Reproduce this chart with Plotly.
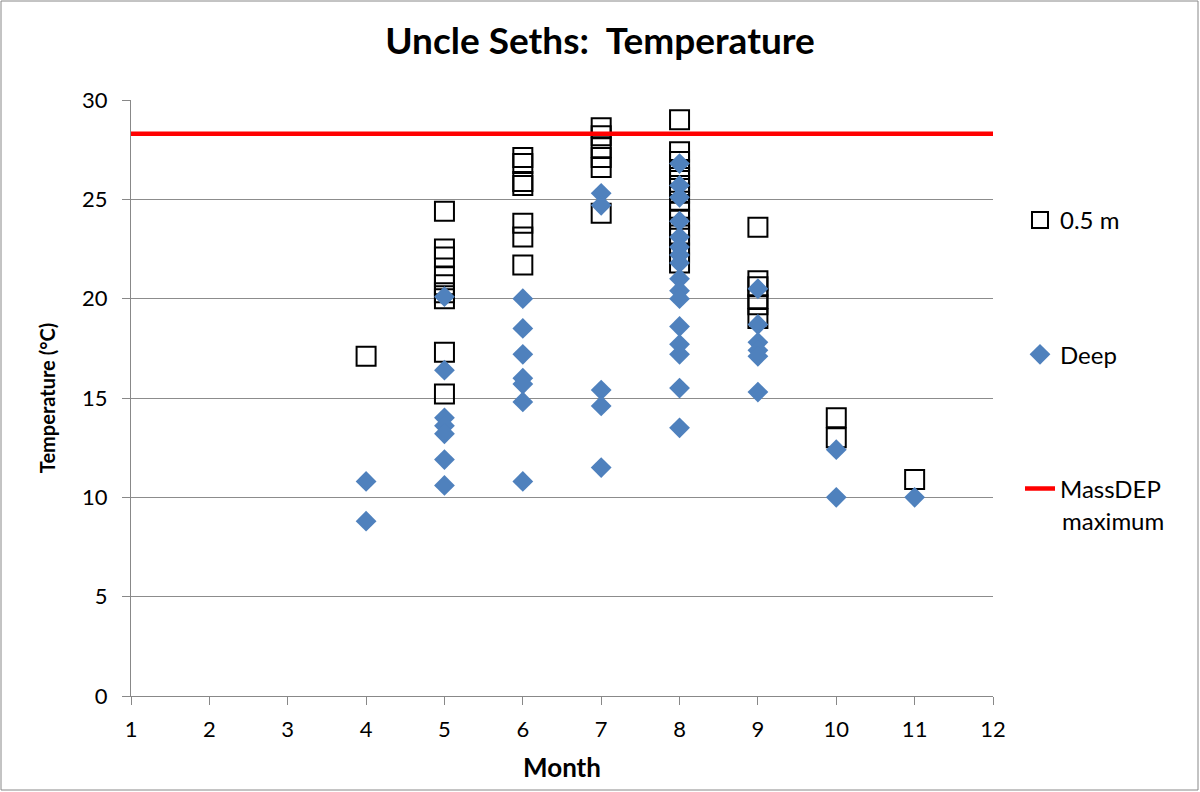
import plotly.graph_objects as go

# 0.5 m surface readings
shallow_month = [4,
                 5, 5, 5, 5, 5, 5, 5, 5, 5,
                 6, 6, 6, 6, 6, 6, 6,
                 7, 7, 7, 7, 7, 7,
                 8, 8, 8, 8, 8, 8, 8, 8, 8, 8, 8, 8, 8, 8, 8,
                 9, 9, 9, 9, 9, 9,
                 10, 10,
                 11]
shallow_temp = [17.1,
                24.4, 22.5, 22.1, 21.1, 20.7, 20.3, 20.0, 17.3, 15.2,
                27.1, 26.8, 25.9, 25.7, 23.8, 23.1, 21.7,
                28.6, 28.2, 27.6, 27.1, 26.6, 24.3,
                29.0, 27.4, 26.9, 26.5, 26.1, 25.7, 25.3, 24.9, 24.4, 24.0, 23.6, 23.2, 22.7, 22.3, 21.8,
                23.6, 20.9, 20.6, 20.0, 19.7, 19.0,
                14.0, 13.0,
                10.9]

# Deep readings
deep_month = [4, 4,
              5, 5, 5, 5, 5, 5, 5,
              6, 6, 6, 6, 6, 6, 6,
              7, 7, 7, 7, 7,
              8, 8, 8, 8, 8, 8, 8, 8, 8, 8, 8, 8, 8, 8, 8, 8,
              9, 9, 9, 9, 9, 9,
              10, 10,
              11]
deep_temp = [10.8, 8.8,
             20.1, 16.4, 14.0, 13.6, 13.2, 11.9, 10.6,
             20.0, 18.5, 17.2, 16.0, 15.7, 14.8, 10.8,
             25.3, 24.7, 15.4, 14.6, 11.5,
             26.8, 25.7, 25.1, 23.9, 23.1, 22.6, 22.2, 21.8, 21.0, 20.4, 20.0, 18.6, 17.7, 17.2, 15.5, 13.5,
             20.5, 18.7, 17.8, 17.4, 17.1, 15.3,
             12.4, 10.0,
             10.0]

# MassDEP maximum
limit_x = [1, 12]
limit_temp = [28.3, 28.3]

x_ticks = list(range(1, 13))
y_ticks = [0, 5, 10, 15, 20, 25, 30]

FONT = "Lato"

fig = go.Figure()
fig.add_trace(go.Scatter(
    x=shallow_month, y=shallow_temp, mode="markers", name="0.5 m",
    legendgroup="a", legendrank=1,
    marker=dict(symbol="square-open", size=19, color="black", line=dict(width=2, color="black")),
))
fig.add_trace(go.Scatter(
    x=limit_x, y=limit_temp, mode="lines", name="MassDEP",
    legendgroup="c", legendrank=3,
    line=dict(color="#FF0000", width=4.5),
))
fig.add_trace(go.Scatter(
    x=deep_month, y=deep_temp, mode="markers", name="Deep",
    legendgroup="b", legendrank=2,
    marker=dict(symbol="diamond", size=16, color="#4F81BD", line=dict(width=0)),
))

W, H = 1200, 792
ml, mr, mt, mb = 131, 207, 100, 96
pw, ph = W - ml - mr, H - mt - mb

def px_x(x):
    return (x - ml) / pw

def px_y(y):
    return (H - mb - y) / ph

fig.update_layout(
    width=W, height=H,
    paper_bgcolor="white", plot_bgcolor="white",
    margin=dict(l=ml, r=mr, t=mt, b=mb),
    font=dict(family=FONT, size=22, color="black"),
    title=dict(text="<b>Uncle Seths:  Temperature</b>", x=0.5, xanchor="center",
               y=1 - 41 / H, yanchor="middle", font=dict(size=37, family=FONT)),
    showlegend=True,
    legend=dict(x=px_x(1020), y=px_y(219 - 21), xanchor="left", yanchor="top",
                traceorder="grouped", tracegroupgap=100,
                font=dict(size=24, family=FONT),
                bgcolor="rgba(0,0,0,0)"),
    xaxis=dict(range=[1, 12], tickvals=x_ticks, showgrid=False, zeroline=False,
               showline=True, linecolor="#888888", linewidth=1,
               ticks="outside", ticklen=8, tickcolor="#888888",
               tickfont=dict(size=22), ticklabelstandoff=6,
               title=dict(text="<b>Month</b>", font=dict(size=26), standoff=17)),
    yaxis=dict(range=[0, 30], tickvals=y_ticks, showgrid=True, gridcolor="#8C8C8C",
               gridwidth=1, zeroline=False, showline=True, linecolor="#888888",
               linewidth=1, ticks="outside", ticklen=8, tickcolor="#888888",
               tickfont=dict(size=22), ticklabelstandoff=10,
               title=dict(text="<b>Temperature (°C)</b>", font=dict(size=20), standoff=21)),
    annotations=[dict(text="maximum", xref="paper", yref="paper",
                      x=px_x(1060), y=px_y(520), xanchor="left", yanchor="middle",
                      showarrow=False, font=dict(size=24, family=FONT))],
    shapes=[dict(type="rect", xref="paper", yref="paper",
                 x0=px_x(1), x1=px_x(1198),
                 y0=px_y(790), y1=px_y(1),
                 line=dict(color="#888888", width=1), fillcolor="rgba(0,0,0,0)", layer="below")],
)

fig.write_html("out.html", config={"displayModeBar": False},
               post_script="document.body.style.margin='0px';")
